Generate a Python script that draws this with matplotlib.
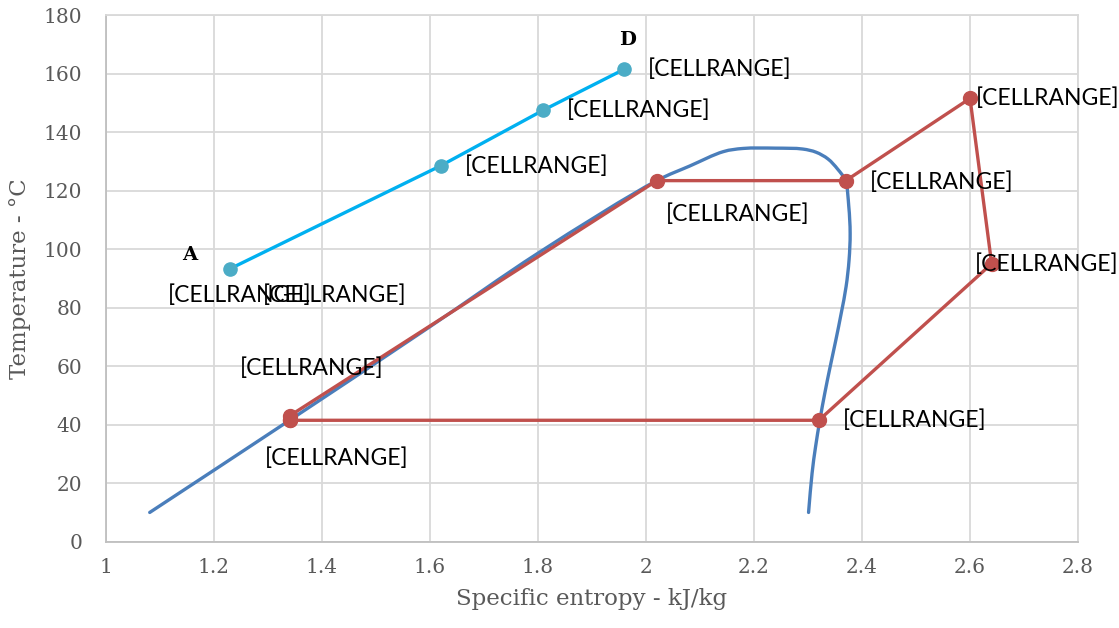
import matplotlib
matplotlib.use("Agg")
import matplotlib.pyplot as plt
import numpy as np
from matplotlib.path import Path
from matplotlib.patches import PathPatch

# Saturation dome (entropy kJ/kg, temperature °C)
dome_s = [1.081, 1.34, 1.60, 1.80, 2.02, 2.081, 2.143, 2.18, 2.24, 2.29, 2.315,
          2.337, 2.355, 2.369, 2.3755, 2.378, 2.376, 2.3705, 2.3615, 2.3515, 2.341,
          2.331, 2.322, 2.314, 2.3075, 2.301]
dome_t = [10.0, 41.5, 73.5, 98.6, 123.4, 128.4, 133.3, 134.4, 134.5, 134.2, 133.1,
          130.8, 127.3, 123.5, 114.5, 105.4, 96.3, 87.2, 78.1, 68.9, 59.8,
          50.7, 41.6, 32.5, 23.4, 10.0]

# Heat source line A -> D
src_s = [1.23, 1.62, 1.81, 1.96]
src_t = [93.3, 128.5, 147.5, 161.5]

# Working fluid cycle
cyc_s = [1.34, 1.34, 2.02, 2.37, 2.60, 2.64, 2.32, 1.34]
cyc_t = [41.5, 43.0, 123.4, 123.4, 151.5, 95.0, 41.5, 41.5]

label_text = "[CELLRANGE]"

x_ticks = [1, 1.2, 1.4, 1.6, 1.8, 2, 2.2, 2.4, 2.6, 2.8]
x_tick_labels = ["1", "1.2", "1.4", "1.6", "1.8", "2", "2.2", "2.4", "2.6", "2.8"]
y_ticks = [0, 20, 40, 60, 80, 100, 120, 140, 160, 180]

DOME = "#4A7EBB"
CYCLE = "#C0504D"
SRC_LINE = "#00B0F0"
SRC_MARK = "#4BACC6"
GRID = "#D9D9D9"
TICK = "#595959"


def smooth_path(xs, ys, sx=540.0, sy=2.93):
    """Smoothed line through the points: centripetal Catmull-Rom as cubic Beziers,
    with spacing measured in roughly screen-proportional units."""
    p = np.column_stack([np.asarray(xs) * sx, np.asarray(ys) * sy]).astype(float)
    ext = np.vstack([2 * p[0] - p[1], p, 2 * p[-1] - p[-2]])
    verts = [p[0]]
    codes = [Path.MOVETO]
    for i in range(1, len(ext) - 2):
        p0, p1, p2, p3 = ext[i - 1], ext[i], ext[i + 1], ext[i + 2]
        d01 = max(np.hypot(*(p1 - p0)) ** 0.5, 1e-6)
        d12 = max(np.hypot(*(p2 - p1)) ** 0.5, 1e-6)
        d23 = max(np.hypot(*(p3 - p2)) ** 0.5, 1e-6)
        m1 = d12 * ((p1 - p0) / d01 - (p2 - p0) / (d01 + d12) + (p2 - p1) / d12)
        m2 = d12 * ((p2 - p1) / d12 - (p3 - p1) / (d12 + d23) + (p3 - p2) / d23)
        c1 = p1 + m1 / 3.0
        c2 = p2 - m2 / 3.0
        verts += [c1, c2, p2]
        codes += [Path.CURVE4] * 3
    verts = np.array(verts) / np.array([sx, sy])
    return Path(verts, codes)


fig = plt.figure(figsize=(11.19, 6.28), dpi=100)
ax = fig.add_axes([0.0947, 0.1374, 0.8687, 0.8387])

ax.add_patch(PathPatch(smooth_path(dome_s, dome_t), facecolor="none",
                       edgecolor=DOME, lw=2.4, capstyle="round",
                       joinstyle="round", zorder=3))
ax.plot(src_s, src_t, color=SRC_LINE, lw=2.4, zorder=4)
ax.plot(src_s, src_t, ls="none", marker="o", ms=9.5, color=SRC_MARK, zorder=5)
ax.plot(cyc_s, cyc_t, color=CYCLE, lw=2.4, marker="o", ms=10, zorder=5)

ax.set_xlim(1, 2.8)
ax.set_ylim(0, 180)
ax.set_xticks(x_ticks)
ax.set_xticklabels(x_tick_labels)
ax.set_yticks(y_ticks)
ax.grid(True, color=GRID, lw=1.3, zorder=0)
ax.set_axisbelow(True)
ax.tick_params(length=0, labelsize=14.5, labelcolor=TICK, pad=12)
for lab in ax.get_xticklabels() + ax.get_yticklabels():
    lab.set_family("DejaVu Serif")
ax.tick_params(axis="y", pad=17)
for side in ("top", "right"):
    ax.spines[side].set_color(GRID)
    ax.spines[side].set_linewidth(1.3)
for side in ("left", "bottom"):
    ax.spines[side].set_color("#BFBFBF")
    ax.spines[side].set_linewidth(1.3)

ax.set_xlabel("Specific entropy - kJ/kg", family="DejaVu Serif", fontsize=16.5,
              color=TICK, labelpad=8)
ax.set_ylabel("Temperature - °C", family="DejaVu Serif", fontsize=16.5,
              color=TICK, labelpad=9)

lab_kw = dict(textcoords="offset points", fontsize=16.5, family="Lato",
              color="black", zorder=6)

# labels on the source line (offsets in points)
src_offsets = [((7, -19), "center"), ((17, 0), "left"), ((17, 0), "left"), ((17, 0), "left")]
for s, t, (off, ha) in zip(src_s, src_t, src_offsets):
    ax.annotate(label_text, (s, t), xytext=off, ha=ha, va="center", **lab_kw)
ax.annotate(label_text, (src_s[0], src_t[0]), xytext=(75, -19), ha="center",
            va="center", **lab_kw)

# labels on the cycle points
cyc_offsets = [((34, -27), "center"), ((16, 34), "center"), ((58, -24), "center"),
               ((17, -1), "left"), ((4, 0), "left"), ((-12, 0), "left"),
               ((17, 0), "left")]
for s, t, (off, ha) in zip(cyc_s[:-1], cyc_t[:-1], cyc_offsets):
    ax.annotate(label_text, (s, t), xytext=off, ha=ha, va="center", **lab_kw)

# state markers
ax.annotate("A", (src_s[0], src_t[0]), xytext=(-29, 10), textcoords="offset points",
            ha="center", va="center", family="DejaVu Serif", fontweight="bold",
            fontsize=14, color="black")
ax.annotate("D", (src_s[-1], src_t[-1]), xytext=(2, 21), textcoords="offset points",
            ha="center", va="center", family="DejaVu Serif", fontweight="bold",
            fontsize=14, color="black")

fig.savefig("out.png", dpi=100)
